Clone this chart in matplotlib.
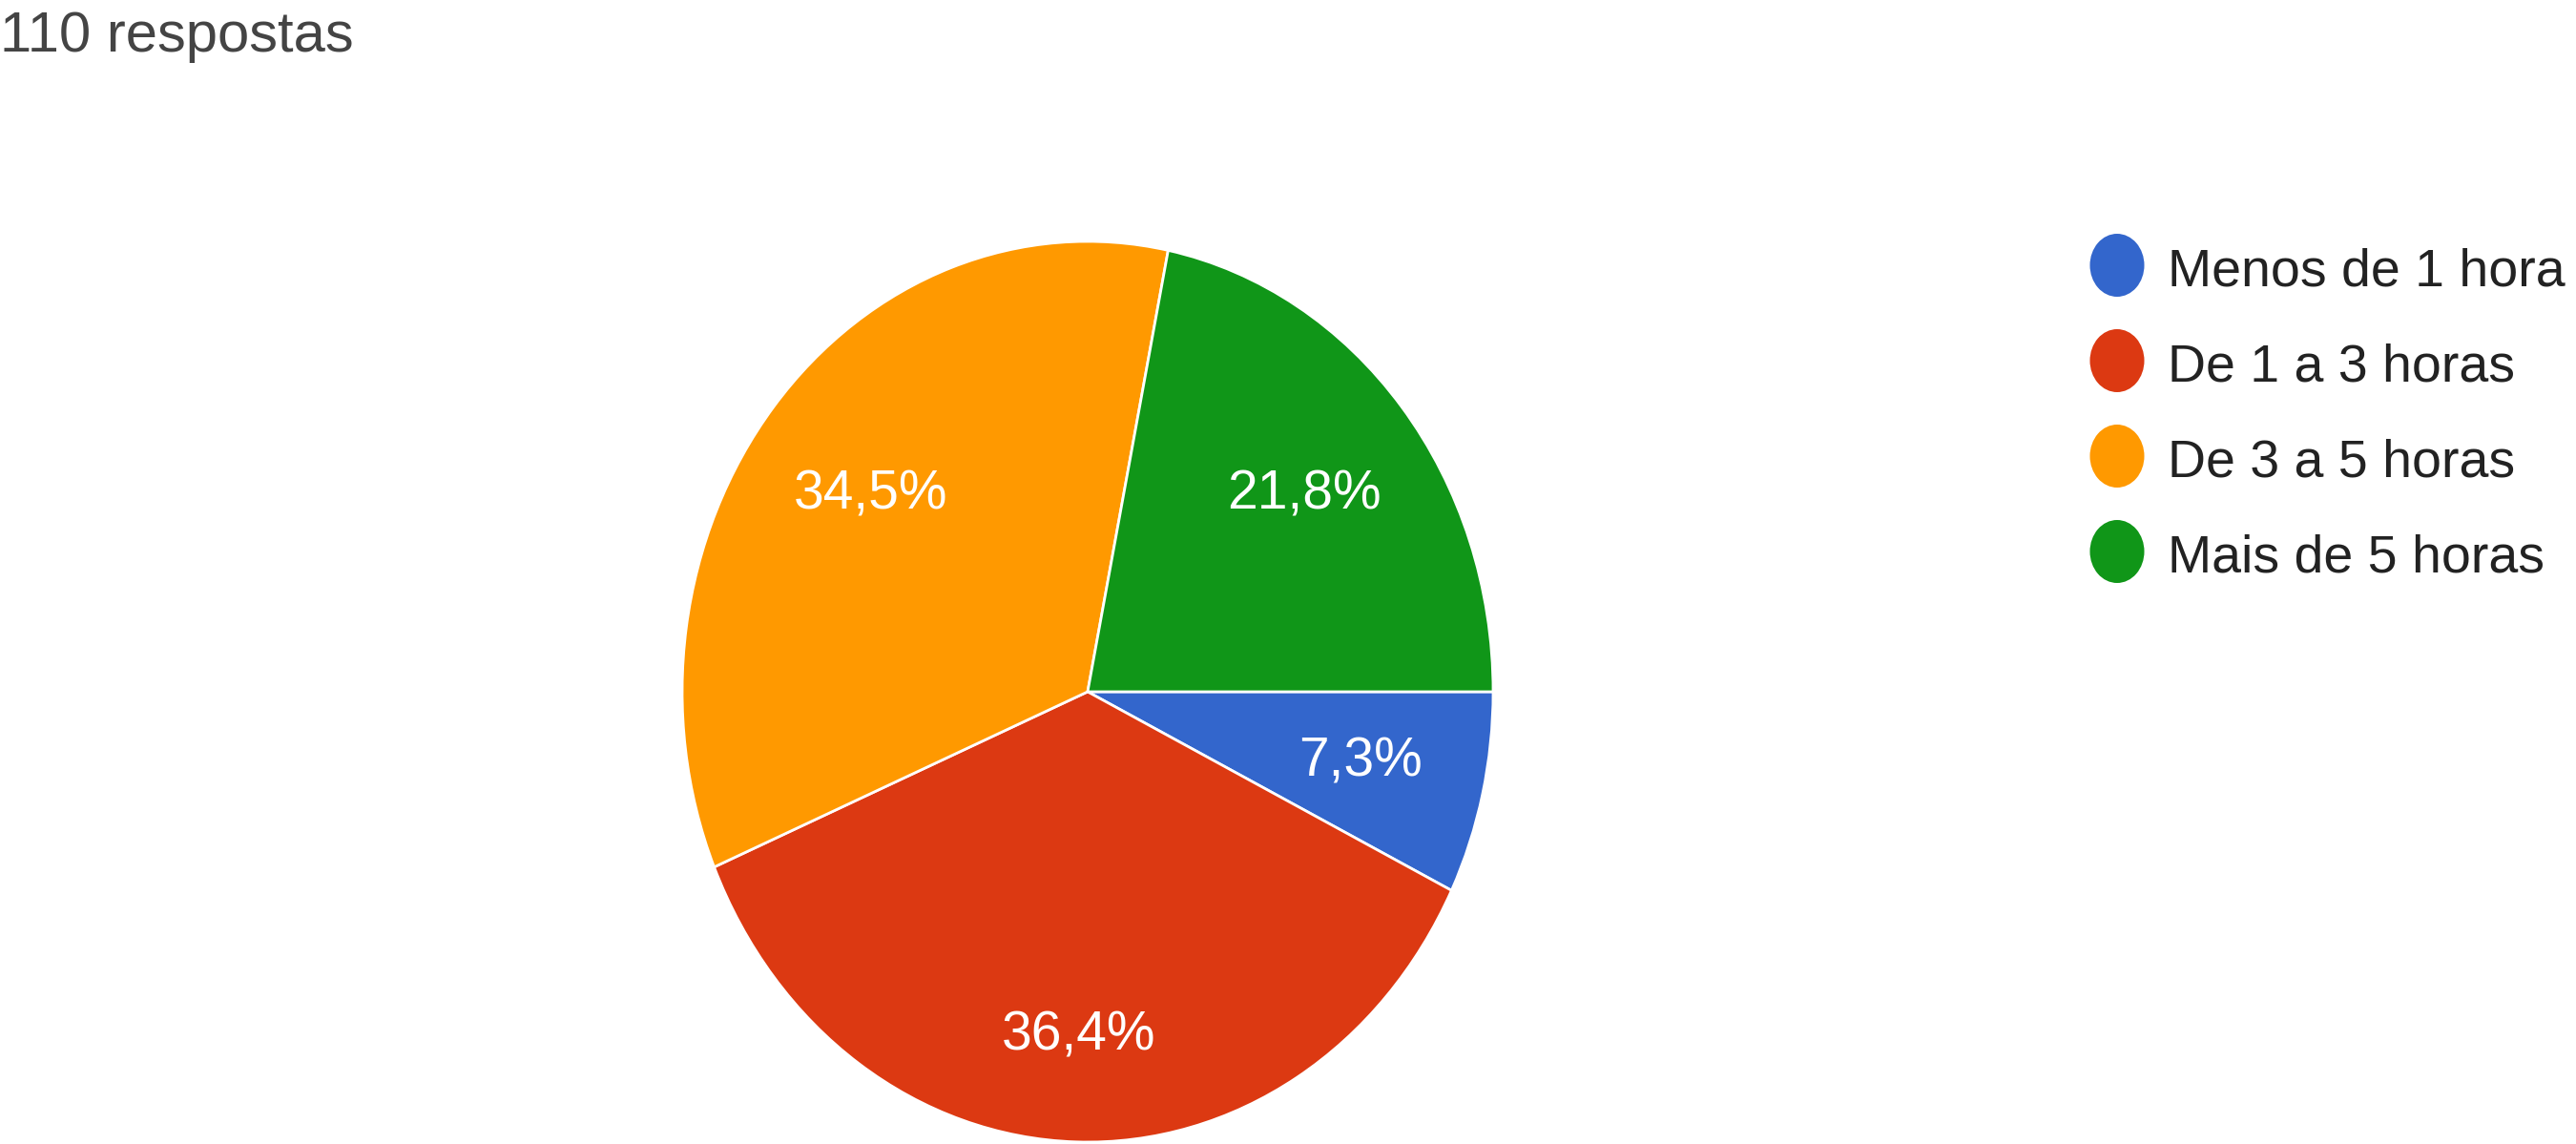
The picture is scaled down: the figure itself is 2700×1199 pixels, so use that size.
import matplotlib
matplotlib.use("Agg")
import matplotlib.pyplot as plt
from matplotlib import font_manager
from matplotlib.patches import Ellipse
import numpy as np

# ---- data ----
categories = ["Menos de 1 hora", "De 1 a 3 horas", "De 3 a 5 horas", "Mais de 5 horas"]
counts = [8, 40, 38, 24]          # 110 respostas
colors = ["#3366cc", "#dc3912", "#ff9900", "#109618"]
title_text = "110 respostas"

W, H = 2700, 1199
DPI = 100

names = {f.name for f in font_manager.fontManager.ttflist}
if "Liberation Sans Narrow" in names:
    FAM = ["Liberation Sans Narrow", "DejaVu Sans"]
    FS_LABEL, FS_LEG, FS_TITLE = 49, 49, 52
else:
    FAM = ["Liberation Sans", "DejaVu Sans"]
    FS_LABEL, FS_LEG, FS_TITLE = 41, 40, 43
plt.rcParams['font.family'] = FAM

fig = plt.figure(figsize=(W / DPI, H / DPI), dpi=DPI)
fig.patch.set_facecolor("white")

# pie geometry (pixels)
cx, cy_top, rx, ry = 1140, 725, 425, 472
ax = fig.add_axes([(cx - rx) / W, (H - cy_top - ry) / H, 2 * rx / W, 2 * ry / H])

def fmt(p):
    return f"{p:.1f}%".replace(".", ",")

wedges, texts, autotexts = ax.pie(
    counts, colors=colors, startangle=0, counterclock=False,
    autopct=fmt, pctdistance=0.69, radius=1,
    wedgeprops=dict(edgecolor="white", linewidth=2),
    textprops=dict(color="white", fontsize=FS_LABEL),
)
ax.set_aspect("auto")
ax.set_xlim(-1, 1)
ax.set_ylim(-1, 1)
ax.axis("off")

# per-slice label distance (Google-style placement)
label_dist = [0.69, 0.765, 0.69, 0.69]
for w, t, d in zip(wedges, autotexts, label_dist):
    ang = np.deg2rad((w.theta1 + w.theta2) / 2)
    t.set_position((d * np.cos(ang), d * np.sin(ang)))

# overlay in pixel coordinates for title & legend
ov = fig.add_axes([0, 0, 1, 1])
ov.set_xlim(0, W)
ov.set_ylim(H, 0)
ov.axis("off")

ov.text(0, 54, title_text, fontsize=FS_TITLE, color="#444444", ha="left", va="baseline")

leg_x, leg_y0, leg_dy = 2219, 278, 100
for i, (lab, col) in enumerate(zip(categories, colors)):
    y = leg_y0 + i * leg_dy
    ov.add_patch(Ellipse((leg_x, y), 57, 66, facecolor=col, edgecolor="none"))
    ov.text(leg_x + 53, y + 21, lab, fontsize=FS_LEG, color="#222222", ha="left", va="baseline")

fig.savefig("out.png", dpi=DPI, facecolor="white")
